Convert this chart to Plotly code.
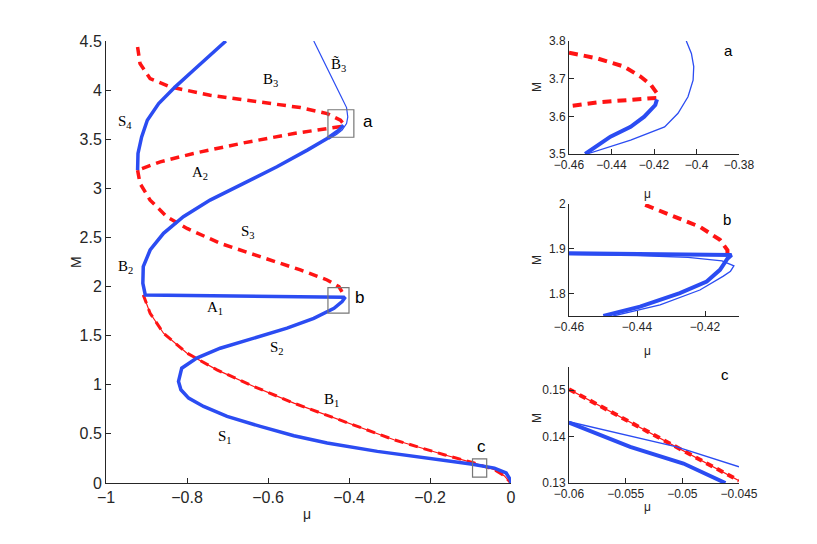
import plotly.graph_objects as go

# ---- main panel data (mu, M) ----
s_mu = [0, -0.002, -0.012, -0.041, -0.099, -0.206, -0.330, -0.454, -0.536, -0.619, -0.701,
        -0.759, -0.796, -0.815, -0.821, -0.813, -0.776, -0.718, -0.635, -0.553, -0.487,
        -0.437, -0.417, -0.411, -0.413, -0.60, -0.903, -0.909, -0.908, -0.891, -0.858,
        -0.809, -0.743, -0.660, -0.578, -0.503, -0.454, -0.425, -0.414]
s_m = [0, 0.034, 0.102, 0.152, 0.193, 0.254, 0.322, 0.407, 0.481, 0.576, 0.678,
       0.779, 0.864, 0.949, 1.034, 1.169, 1.271, 1.372, 1.474, 1.576, 1.677,
       1.779, 1.847, 1.881, 1.89, 1.90, 1.915, 2.033, 2.203, 2.372, 2.542,
       2.711, 2.880, 3.05, 3.219, 3.389, 3.507, 3.592, 3.643]

s4_mu = [-0.922, -0.921, -0.912, -0.898, -0.870, -0.829, -0.784, -0.738, -0.704]
s4_m = [3.185, 3.355, 3.524, 3.694, 3.863, 4.033, 4.202, 4.371, 4.5]

b3t_mu = [-0.487, -0.474, -0.458, -0.441, -0.421, -0.406, -0.403, -0.406, -0.417, -0.43, -0.45]
b3t_m = [4.5, 4.39, 4.26, 4.10, 3.948, 3.822, 3.727, 3.66, 3.592, 3.55, 3.50]

b3_mu = [-0.922, -0.916, -0.891, -0.842, -0.743, -0.619, -0.52, -0.454, -0.421, -0.414,
         -0.414, -0.536, -0.66, -0.784, -0.866, -0.922]
b3_m = [4.44, 4.27, 4.117, 4.033, 3.948, 3.88, 3.822, 3.761, 3.694, 3.66,
        3.633, 3.558, 3.463, 3.355, 3.27, 3.185]

s3_mu = [-0.922, -0.916, -0.891, -0.85, -0.80, -0.718, -0.619, -0.52, -0.454, -0.425, -0.413]
s3_m = [3.185, 3.05, 2.88, 2.711, 2.592, 2.44, 2.304, 2.169, 2.067, 1.999, 1.915]

b1_mu = [-0.908, -0.891, -0.858, -0.80, -0.726, -0.635, -0.536, -0.413, -0.289, -0.165,
         -0.091, -0.041, -0.017, -0.004, 0]
b1_m = [1.915, 1.728, 1.525, 1.322, 1.152, 0.983, 0.813, 0.627, 0.44, 0.288,
        0.203, 0.136, 0.075, 0.017, 0]

# ---- inset a ----
a_thick_mu = [-0.4524, -0.4405, -0.431, -0.4246, -0.4194, -0.4186]
a_thick_m = [3.5, 3.546, 3.572, 3.599, 3.630, 3.645]
a_thin_mu = [-0.4048, -0.4024, -0.4013, -0.4016, -0.404, -0.4087, -0.415, -0.431, -0.4516]
a_thin_m = [3.8, 3.767, 3.732, 3.696, 3.652, 3.608, 3.572, 3.537, 3.5]
a_red_mu = [-0.46, -0.4468, -0.4341, -0.4262, -0.4214, -0.4186, -0.4186, -0.431, -0.4468, -0.46]
a_red_m = [3.769, 3.754, 3.732, 3.705, 3.683, 3.661, 3.649, 3.643, 3.637, 3.627]

# ---- inset b ----
b_thick_mu = [-0.46, -0.44, -0.42, -0.4125, -0.4122, -0.4134, -0.4141, -0.4156, -0.4195,
              -0.4274, -0.4391, -0.4499]
b_thick_m = [1.89, 1.889, 1.888, 1.888, 1.886, 1.878, 1.871, 1.853, 1.827, 1.801, 1.771, 1.75]
b_thin_mu = [-0.46, -0.44, -0.425, -0.415, -0.4115, -0.4125, -0.4146, -0.4215, -0.4332, -0.447]
b_thin_m = [1.887, 1.885, 1.881, 1.873, 1.862, 1.85, 1.839, 1.808, 1.775, 1.75]
b_red_mu = [-0.4376, -0.4293, -0.4215, -0.4156, -0.4134, -0.4134]
b_red_m = [1.998, 1.972, 1.949, 1.92, 1.897, 1.89]

# ---- inset c ----
c_thick_mu = [-0.06, -0.0546, -0.0499, -0.0465, -0.0462]
c_thick_m = [0.143, 0.1378, 0.1342, 0.1303, 0.13]
c_thin_mu = [-0.06, -0.0505, -0.045]
c_thin_m = [0.1432, 0.1378, 0.1335]
c_red_mu = [-0.06, -0.0525, -0.045]
c_red_m = [0.1502, 0.1403, 0.1305]

labels = ["B<sub>3</sub>", "B\u0303<sub>3</sub>", "S<sub>4</sub>", "A<sub>2</sub>",
          "S<sub>3</sub>", "B<sub>2</sub>", "A<sub>1</sub>", "S<sub>2</sub>",
          "B<sub>1</sub>", "S<sub>1</sub>"]
label_mu = [-0.595, -0.427, -0.953, -0.768, -0.65, -0.953, -0.731, -0.578, -0.442, -0.706]
label_m = [4.10, 4.26, 3.68, 3.16, 2.56, 2.2, 1.78, 1.37, 0.85, 0.47]

BLUE = "#2b4cf2"
RED = "#ff1414"
AX = "#262626"
W, H = 817, 544
OFF = 8  # page body margin of the html page

fig = go.Figure()


def line(x, y, ax, color, width, dash=None):
    fig.add_trace(go.Scatter(x=x, y=y, mode="lines", xaxis="x" + ax, yaxis="y" + ax,
                             line=dict(color=color, width=width, dash=dash),
                             showlegend=False, hoverinfo="skip"))


RD = "9px,6px"
# main
line(b1_mu, b1_m, "", RED, 1.2)
line(b1_mu, b1_m, "", RED, 3, RD)
line(b3_mu, b3_m, "", RED, 3.5, RD)
line(s3_mu, s3_m, "", RED, 3.5, RD)
line(s_mu, s_m, "", BLUE, 3.5)
line(s4_mu, s4_m, "", BLUE, 3.5)
line(b3t_mu, b3t_m, "", BLUE, 1.2)
# inset a
line(a_red_mu, a_red_m, "2", RED, 4, RD)
line(a_thick_mu, a_thick_m, "2", BLUE, 4)
line(a_thin_mu, a_thin_m, "2", BLUE, 1.3)
# inset b
line(b_red_mu, b_red_m, "3", RED, 4, RD)
line(b_thick_mu, b_thick_m, "3", BLUE, 4)
line(b_thin_mu, b_thin_m, "3", BLUE, 1.3)
# inset c
line(c_red_mu, c_red_m, "4", RED, 1.2)
line(c_red_mu, c_red_m, "4", RED, 4, "7px,5px")
line(c_thick_mu, c_thick_m, "4", BLUE, 4)
line(c_thin_mu, c_thin_m, "4", BLUE, 1.3)


def px(x0, x1):
    return [(x0 - OFF) / W, (x1 - OFF) / W]


def py(y_top, y_bot):
    return [1 - (y_bot - OFF) / H, 1 - (y_top - OFF) / H]


def ppx(x):
    return (x - OFF) / W


def ppy(y):
    return 1 - (y - OFF) / H


tick_font = dict(family="Liberation Sans, Arial", size=16, color=AX)
small_font = dict(family="Liberation Sans, Arial", size=12, color=AX)
axis_common = dict(showline=True, linecolor=AX, linewidth=1, ticks="inside", ticklen=5,
                   tickcolor=AX, showgrid=False, zeroline=False, mirror=False,
                   automargin=False)

fig.update_layout(
    width=W, height=H, margin=dict(l=0, r=0, t=0, b=0),
    paper_bgcolor="white", plot_bgcolor="white",
    xaxis=dict(domain=px(106, 511), range=[-1, 0], tickvals=[-1, -0.8, -0.6, -0.4, -0.2, 0],
               tickfont=tick_font, anchor="y", **axis_common),
    yaxis=dict(domain=py(41, 483), range=[0, 4.5], dtick=0.5, tickfont=tick_font,
               anchor="x", **axis_common),
    xaxis2=dict(domain=px(569, 739), range=[-0.46, -0.38],
                tickvals=[-0.46, -0.44, -0.42, -0.4, -0.38], tickfont=small_font,
                anchor="y2", **axis_common),
    yaxis2=dict(domain=py(41, 154), range=[3.5, 3.8], tickvals=[3.5, 3.6, 3.7, 3.8],
                tickfont=small_font, anchor="x2", **axis_common),
    xaxis3=dict(domain=px(569, 739), range=[-0.46, -0.41], tickvals=[-0.46, -0.44, -0.42],
                tickfont=small_font, anchor="y3", **axis_common),
    yaxis3=dict(domain=py(204, 316), range=[1.75, 2], tickvals=[1.8, 1.9, 2],
                tickfont=small_font, anchor="x3", **axis_common),
    xaxis4=dict(domain=px(569, 739), range=[-0.06, -0.045],
                tickvals=[-0.06, -0.055, -0.05, -0.045], tickfont=small_font,
                anchor="y4", **axis_common),
    yaxis4=dict(domain=py(367, 483), range=[0.13, 0.155], tickvals=[0.13, 0.14, 0.15],
                tickfont=small_font, anchor="x4", **axis_common),
)

# zoom boxes on the main panel
for (x0, x1, y0, y1) in [(-0.452, -0.388, 3.52, 3.80), (-0.452, -0.40, 1.73, 1.99),
                         (-0.095, -0.06, 0.06, 0.245)]:
    fig.add_shape(type="rect", xref="x", yref="y", x0=x0, x1=x1, y0=y0, y1=y1,
                  line=dict(color="#777777", width=1.2))

serif = dict(family="Liberation Serif, Times New Roman", size=15, color="black")
for t, x, y in zip(labels, label_mu, label_m):
    fig.add_annotation(text=t, x=x, y=y, xref="x", yref="y", showarrow=False, font=serif)

sans = dict(family="Liberation Sans, Arial", size=17, color="black")
for t, x, y in [("a", -0.353, 3.68), ("b", -0.373, 1.89), ("c", -0.074, 0.37)]:
    fig.add_annotation(text=t, x=x, y=y, xref="x", yref="y", showarrow=False, font=sans)

sans14 = dict(family="Liberation Sans, Arial", size=15, color="black")
fig.add_annotation(text="a", x=-0.385, y=3.776, xref="x2", yref="y2", showarrow=False, font=sans14)
fig.add_annotation(text="b", x=-0.4135, y=1.966, xref="x3", yref="y3", showarrow=False, font=sans14)
fig.add_annotation(text="c", x=-0.0462, y=0.1533, xref="x4", yref="y4", showarrow=False, font=sans14)

# axis titles
title_font = dict(family="Liberation Sans, Arial", size=14, color=AX)
ititle_font = dict(family="Liberation Sans, Arial", size=12, color=AX)
fig.add_annotation(text="M", x=ppx(66), y=ppy(262), xref="paper", yref="paper",
                   showarrow=False, textangle=-90, font=title_font)
fig.add_annotation(text="μ", x=ppx(307), y=ppy(524), xref="paper", yref="paper",
                   showarrow=False, font=title_font)
for yc, ym in [(80, 185), (260, 351), (425, 516)]:
    fig.add_annotation(text="M", x=ppx(537), y=ppy(yc), xref="paper", yref="paper",
                       showarrow=False, textangle=-90, font=ititle_font)
    fig.add_annotation(text="μ", x=ppx(653), y=ppy(ym), xref="paper", yref="paper",
                       showarrow=False, font=ititle_font)

fig.write_html("out.html")
